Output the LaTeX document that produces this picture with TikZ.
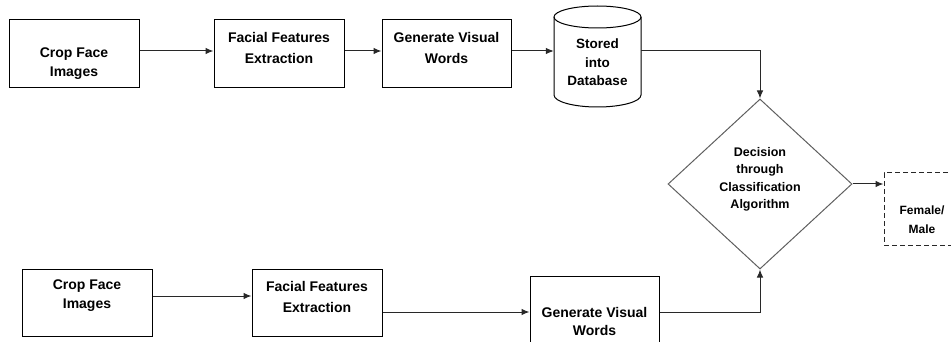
\documentclass[tikz,border=0pt]{standalone}
\usepackage{fontspec}
\setmainfont{Liberation Sans}
\usetikzlibrary{arrows.meta,shapes.geometric}
\definecolor{linkgray}{RGB}{40,40,40}
\definecolor{diagray}{RGB}{95,95,95}
\begin{document}
\begin{tikzpicture}[x=1pt,y=-1pt,
  box/.style={draw=black,line width=1pt,minimum width=130pt,minimum height=68pt,inner sep=0pt},
  txt/.style={font=\fontsize{14}{20}\selectfont\bfseries,align=center,inner sep=0pt},
  dtxt/.style={font=\fontsize{12.5}{17.5}\selectfont\bfseries,align=center,inner sep=0pt},
  link/.style={draw=linkgray,line width=1pt},
  arr/.style={link,-{Latex[length=8pt,width=6.5pt]}}]
\useasboundingbox (0,0) rectangle (951,342);
\clip (0,0) rectangle (951,342);

% upper row
\node[box] (c1) at (74,54) {};
\node[txt,font=\fontsize{14}{19}\selectfont\bfseries] at (74,63.5) {Crop Face\\Images};
\node[box] (f1) at (279,54) {};
\node[txt,font=\fontsize{14}{21}\selectfont\bfseries] at (279,47.5) {Facial Features\\Extraction};
\node[box,minimum width=129pt] (g1) at (446.5,54) {};
\node[txt,font=\fontsize{14}{21}\selectfont\bfseries] at (446.5,47.5) {Generate Visual\\Words};

% database cylinder
\node[minimum width=87pt,minimum height=101pt,inner sep=0pt] (db) at (597.5,56.5) {};
\draw[black,line width=1pt] (554,17) -- (554,95)
  arc[start angle=180,end angle=0,x radius=43.5,y radius=12] -- (641,17);
\draw[black,line width=1pt] (597.5,17) ellipse [x radius=43.5,y radius=11];
\node[txt,font=\fontsize{13.5}{18.5}\selectfont\bfseries] at (597.5,62.5) {Stored\\into\\Database};

% decision
\node[diamond,draw=diagray,line width=1pt,minimum width=184pt,minimum height=170pt,inner sep=0pt] (dm) at (760,184) {};
\node[dtxt] at (760,179.5) {Decision\\through\\Classification\\Algorithm};

% result
\node[draw=linkgray,line width=1pt,dash pattern=on 5pt off 3pt,minimum width=76pt,minimum height=72pt,inner sep=0pt] (out) at (922,209) {};
\node[txt,font=\fontsize{12}{19}\selectfont\bfseries] at (922,219.5) {Female/\\Male};

% lower row
\node[box,minimum height=67pt] (c2) at (87,302.5) {};
\node[txt,font=\fontsize{14}{19}\selectfont\bfseries] at (87,295.5) {Crop Face\\Images};
\node[box,minimum height=67pt] (f2) at (317,302.5) {};
\node[txt,font=\fontsize{14}{21}\selectfont\bfseries] at (317,296.5) {Facial Features\\Extraction};
\node[box,minimum width=129pt] (g2) at (594.5,310) {};
\node[txt,font=\fontsize{14}{18}\selectfont\bfseries] at (594.5,321) {Generate Visual\\Words};

% connectors
\draw[arr] ([yshift=3pt]c1.east) -- ([yshift=3pt]c1.east -| f1.west);
\draw[arr] ([yshift=3pt]f1.east) -- ([yshift=3pt]f1.east -| g1.west);
\draw[arr] ([yshift=3pt]g1.east) -- ([yshift=3pt]g1.east -| db.west);
\draw[arr] ([yshift=5.5pt]db.east) -| (dm.north);
\draw[arr] (dm.east) -- (dm.east -| out.west);
\draw[arr] ([yshift=6.5pt]c2.east) -- ([yshift=6.5pt]c2.east -| f2.west);
\draw[arr] ([yshift=-9.5pt]f2.east) -- ([yshift=-9.5pt]f2.east -| g2.west);
\draw[arr] ([yshift=-2pt]g2.east) -| (dm.south);
\end{tikzpicture}
\end{document}
